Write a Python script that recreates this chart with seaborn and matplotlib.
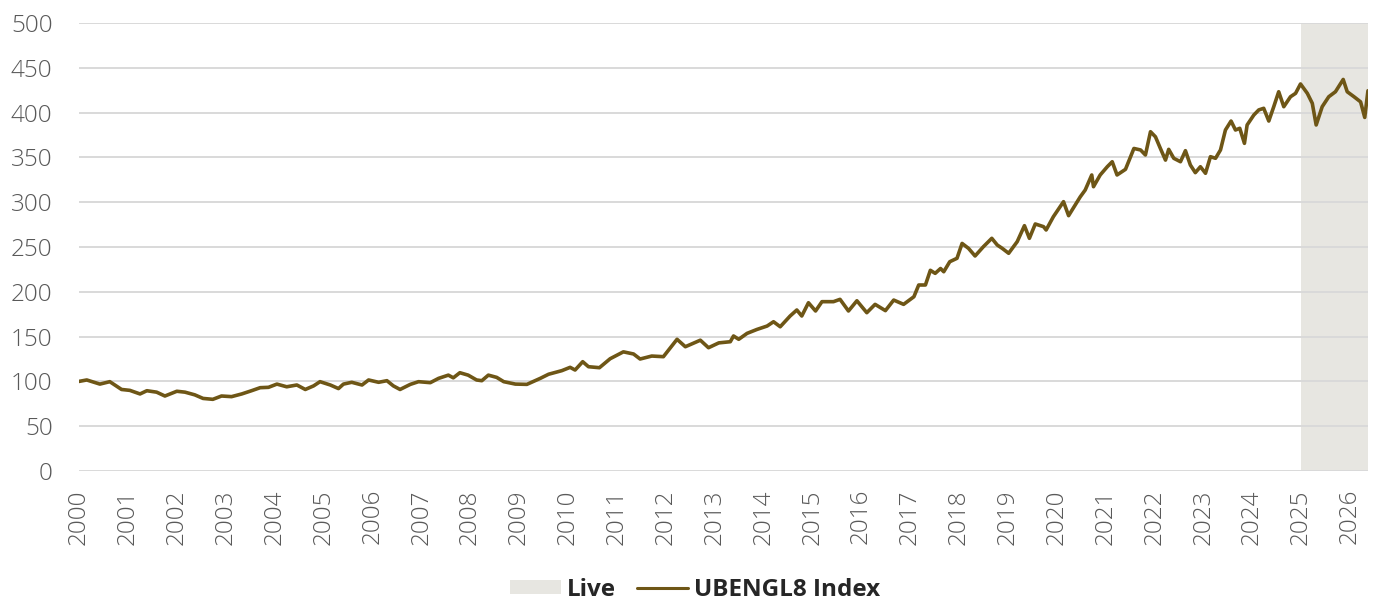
import matplotlib
matplotlib.use("Agg")
import matplotlib.pyplot as plt
import matplotlib.dates as mdates
from matplotlib.patches import Patch
from matplotlib.lines import Line2D
import seaborn as sns
import pandas as pd

# Index level of UBENGL8 (rebased to 100 at start of 2000)
dates = [
    "2000-01-01", "2000-02-28", "2000-06-05", "2000-08-18", "2000-11-14",
    "2001-01-15", "2001-04-01", "2001-05-22", "2001-08-03", "2001-10-04",
    "2002-01-01", "2002-03-03", "2002-05-15", "2002-07-16", "2002-09-27", "2002-12-01",
    "2003-02-14", "2003-05-01", "2003-07-13", "2003-09-16", "2003-11-17",
    "2004-01-19", "2004-04-01", "2004-06-16", "2004-08-18", "2004-10-19", "2004-12-06",
    "2005-02-21", "2005-04-23", "2005-05-30", "2005-07-31", "2005-10-16", "2005-12-04",
    "2006-02-17", "2006-04-20", "2006-06-07", "2006-07-27", "2006-10-12", "2006-12-12",
    "2007-03-10", "2007-05-11", "2007-07-23", "2007-08-29", "2007-10-17", "2007-12-18",
    "2008-02-19", "2008-03-29", "2008-05-17", "2008-07-18", "2008-09-09", "2008-12-05",
    "2009-03-01", "2009-06-09", "2009-08-10", "2009-11-17",
    "2010-01-18", "2010-02-24", "2010-04-22", "2010-06-04", "2010-08-25", "2010-11-13",
    "2011-02-20", "2011-05-07", "2011-06-25", "2011-09-20", "2011-12-16",
    "2012-03-27", "2012-05-28", "2012-09-17", "2012-11-17",
    "2013-02-02", "2013-04-29", "2013-05-23", "2013-07-01", "2013-09-01", "2013-11-14",
    "2014-01-29", "2014-03-18", "2014-05-07", "2014-07-20", "2014-09-08", "2014-10-15", "2014-12-04",
    "2015-01-26", "2015-03-15", "2015-06-09", "2015-07-28", "2015-09-29", "2015-12-01",
    "2016-02-13", "2016-04-15", "2016-07-01", "2016-09-01", "2016-11-14",
    "2017-01-30", "2017-03-07", "2017-04-26", "2017-06-02", "2017-07-08", "2017-08-17",
    "2017-09-10", "2017-10-25", "2017-12-18",
    "2018-01-25", "2018-03-14", "2018-05-02", "2018-07-03", "2018-08-10", "2018-09-04",
    "2018-10-15", "2018-11-21",
    "2019-01-08", "2019-03-13", "2019-05-06", "2019-06-12", "2019-07-26", "2019-09-26",
    "2019-10-15", "2019-12-08",
    "2020-02-22", "2020-03-31", "2020-06-26", "2020-08-02", "2020-09-20", "2020-10-03", "2020-11-22",
    "2021-01-14", "2021-02-20", "2021-03-28", "2021-05-30", "2021-08-01", "2021-09-20",
    "2021-10-26", "2021-12-03",
    "2022-01-09", "2022-02-15", "2022-03-25", "2022-04-18", "2022-05-26", "2022-07-15",
    "2022-08-21", "2022-09-27", "2022-11-03", "2022-12-11",
    "2023-01-18", "2023-02-24", "2023-04-03", "2023-05-10", "2023-06-16", "2023-07-28",
    "2023-08-30", "2023-10-01", "2023-11-05", "2023-11-25",
    "2024-01-14", "2024-02-20", "2024-03-28", "2024-05-05", "2024-06-11", "2024-07-18",
    "2024-08-25", "2024-10-14", "2024-11-21", "2024-12-28",
    "2025-02-17", "2025-03-26", "2025-04-24", "2025-06-08", "2025-07-27", "2025-09-15",
    "2025-11-12", "2025-12-12",
    "2026-02-01", "2026-03-22", "2026-04-22", "2026-05-16",
]
index_values = [
    100, 101.6, 97, 99.7, 91,
    90, 86, 89.6, 88, 83.7,
    89, 88, 85, 81, 80, 83.7,
    83, 86, 89.6, 93, 93.4,
    97, 94, 96, 91, 95, 99.7,
    96, 92, 97, 99, 96, 101.6,
    99, 100.8, 95, 91, 96.7, 99.7,
    98.6, 103.4, 107, 104, 109.7, 107,
    101.6, 100.8, 107, 104.5, 99.7, 97,
    96.7, 103.4, 108, 112,
    115.7, 112.7, 122, 116.4, 115.3, 125.3,
    133, 130.6, 125, 128.3, 127.6,
    147, 138.7, 146, 137.6,
    143, 144.3, 150.7, 147, 153.6, 158,
    161.8, 166.6, 161, 173, 179.7, 173, 187.8,
    178.6, 189, 189, 191.6, 178.6, 190,
    176.7, 186, 179, 190.8, 186,
    194.5, 207.6, 207.6, 224, 220.6, 226,
    222.4, 233.6, 237.4,
    254, 248.5, 240, 250.3, 256, 259.7,
    252.2, 248.5,
    243, 256, 273.8, 259.7, 275.7, 272.7,
    269, 283.8,
    300.6, 285, 306, 313.6, 330.4, 317.3, 330.4,
    339.6, 345.2, 330.4, 336.7, 360, 358.3,
    352.7, 378.7,
    373, 360, 347, 359, 349, 345.2,
    357.5, 341.5, 333, 339.6,
    332.3, 350.8, 349, 358.3, 380.6, 390.6,
    380.6, 382.5, 365.7, 386.2,
    397.3, 403, 404.8, 390.6, 406.6, 423.3,
    406.6, 417.7, 421.5, 432,
    421.5, 410.4, 386.2, 406.6, 417.7, 423.3,
    437, 423.3,
    417.7, 412, 394.6, 424.4,
]
live_start = "2025-01-01"
y_ticks = [0, 50, 100, 150, 200, 250, 300, 350, 400, 450, 500]
series_name = "UBENGL8 Index"
live_name = "Live"

df = pd.DataFrame({"date": pd.to_datetime(dates), "value": index_values})

sns.set_theme(style="white")
plt.rcParams["font.family"] = ["Open Sans", "DejaVu Sans"]

line_color = "#6E5616"
shade_color = "#E7E6E1"
tick_color = "#595959"

fig = plt.figure(figsize=(13.74, 6.01), dpi=100)
ax = fig.add_axes([0.0575, 0.2163, 0.9381, 0.7454])

x_start = df["date"].iloc[0]
x_end = df["date"].iloc[-1]
ax.axvspan(pd.Timestamp(live_start), x_end, color=shade_color, lw=0, zorder=0)

sns.lineplot(data=df, x="date", y="value", ax=ax, color=line_color,
             linewidth=2.6, zorder=3)

ax.set_xlim(x_start, x_end)
ax.set_ylim(0, 500)
ax.set_yticks(y_ticks)
ax.yaxis.grid(True, color="#D9D9D9", linewidth=1.4, zorder=1)
ax.xaxis.grid(False)
ax.set_axisbelow(True)
for s in ax.spines.values():
    s.set_visible(False)

ax.xaxis.set_major_locator(mdates.YearLocator(1))
ax.xaxis.set_major_formatter(mdates.DateFormatter("%Y"))
ax.tick_params(axis="x", labelrotation=90, labelsize=17.5, labelcolor=tick_color,
               length=0, pad=13)
ax.tick_params(axis="y", labelsize=17.5, labelcolor=tick_color, length=0, pad=19)
for lbl in ax.get_xticklabels() + ax.get_yticklabels():
    lbl.set_fontweight("light")
ax.set_xlabel("")
ax.set_ylabel("")

handles = [
    Patch(facecolor=shade_color, edgecolor="none", label=live_name),
    Line2D([0], [0], color=line_color, linewidth=2.2, label=series_name),
]
fig.legend(handles=handles, loc="lower center", bbox_to_anchor=(0.506, -0.038),
           ncol=2, frameon=False, prop={"weight": "bold", "size": 17.5},
           handlelength=2.1, handleheight=0.5, handletextpad=0.25,
           columnspacing=0.85)

fig.savefig("out.png", dpi=100)
